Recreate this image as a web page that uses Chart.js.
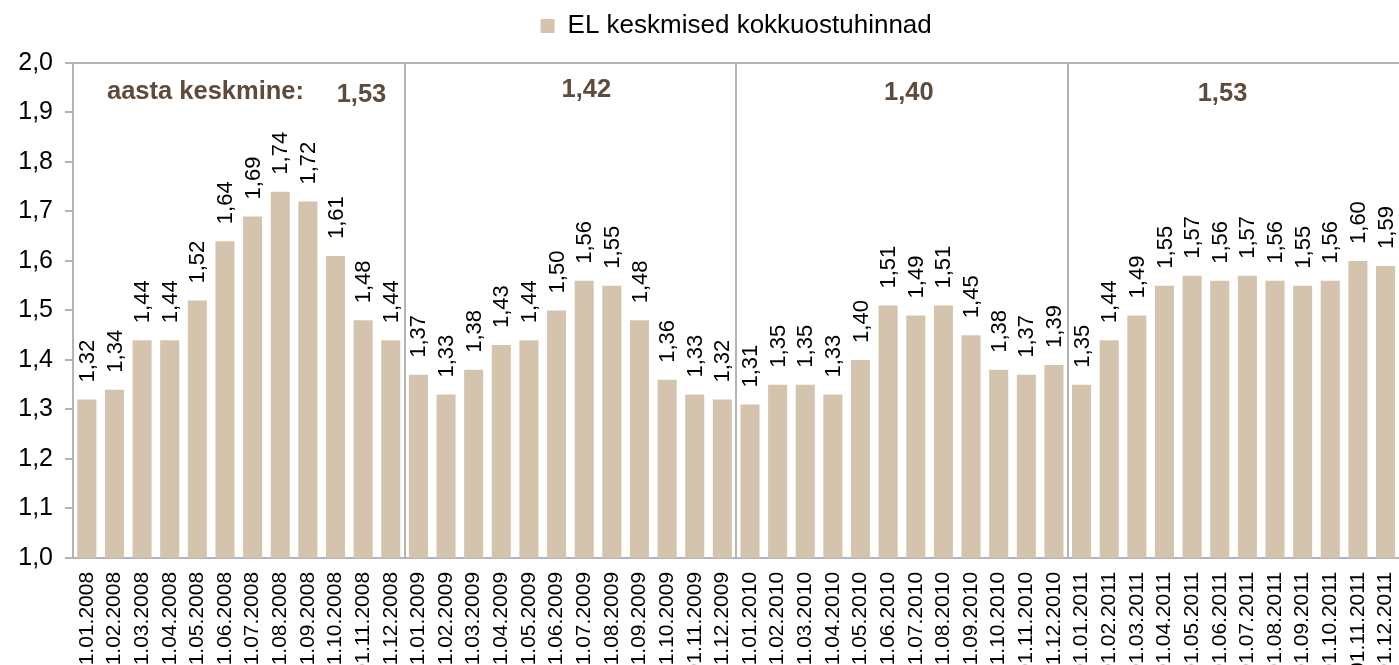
<!DOCTYPE html>
<html><head><meta charset="utf-8">
<script src="https://cdn.jsdelivr.net/npm/chart.js@4"></script>
<style>
html,body{margin:0;padding:0;background:#fff;overflow:hidden;}
#wrap{width:1425px;height:691px;position:relative;}
</style></head><body>
<div id="wrap"><canvas id="c"></canvas></div>
<script>
const categories = [
 '01.01.2008','01.02.2008','01.03.2008','01.04.2008','01.05.2008','01.06.2008','01.07.2008','01.08.2008','01.09.2008','01.10.2008','01.11.2008','01.12.2008',
 '01.01.2009','01.02.2009','01.03.2009','01.04.2009','01.05.2009','01.06.2009','01.07.2009','01.08.2009','01.09.2009','01.10.2009','01.11.2009','01.12.2009',
 '01.01.2010','01.02.2010','01.03.2010','01.04.2010','01.05.2010','01.06.2010','01.07.2010','01.08.2010','01.09.2010','01.10.2010','01.11.2010','01.12.2010',
 '01.01.2011','01.02.2011','01.03.2011','01.04.2011','01.05.2011','01.06.2011','01.07.2011','01.08.2011','01.09.2011','01.10.2011','01.11.2011','01.12.2011'
];
const prices2008 = [1.32, 1.34, 1.44, 1.44, 1.52, 1.64, 1.69, 1.74, 1.72, 1.61, 1.48, 1.44];
const prices2009 = [1.37, 1.33, 1.38, 1.43, 1.44, 1.50, 1.56, 1.55, 1.48, 1.36, 1.33, 1.32];
const prices2010 = [1.31, 1.35, 1.35, 1.33, 1.40, 1.51, 1.49, 1.51, 1.45, 1.38, 1.37, 1.39];
const prices2011 = [1.35, 1.44, 1.49, 1.55, 1.57, 1.56, 1.57, 1.56, 1.55, 1.56, 1.60, 1.59];
const seriesLabel = 'EL keskmised kokkuostuhinnad';
const yearAverageCaption = 'aasta keskmine:';
const yearAverages = ['1,53', '1,42', '1,40', '1,53'];
const yTickLabels = ['1,0','1,1','1,2','1,3','1,4','1,5','1,6','1,7','1,8','1,9','2,0'];

const prices = [].concat(prices2008, prices2009, prices2010, prices2011);

const FONT = '"Liberation Sans", Arial, sans-serif';
const barColor = '#D4C4AE';
const lineColor = '#B4B4B4';
const noteColor = '#5E4B3C';
const fmt2 = v => v.toFixed(2).replace('.', ',');

const barValueLabels = {
  id: 'barValueLabels',
  afterDatasetsDraw(chart) {
    const ctx = chart.ctx;
    const meta = chart.getDatasetMeta(0);
    const data = chart.data.datasets[0].data;
    ctx.save();
    ctx.font = '22px ' + FONT;
    ctx.fillStyle = '#000';
    ctx.textAlign = 'left';
    ctx.textBaseline = 'middle';
    meta.data.forEach((bar, i) => {
      ctx.save();
      ctx.translate(bar.x + 1, bar.y - 17);
      ctx.rotate(-Math.PI / 2);
      ctx.fillText(fmt2(data[i]), 0, 0);
      ctx.restore();
    });
    ctx.restore();
  }
};

// annotation placement: [category offset, y value]
const notePlacement = { caption: [1.23, 1.942], values: [[10.44, 1.936], [18.58, 1.946], [30.25, 1.940], [41.6, 1.938]] };

const yearNotes = {
  id: 'yearNotes',
  afterDraw(chart) {
    const ctx = chart.ctx;
    const xs = chart.scales.x, ys = chart.scales.y;
    const catW = (xs.right - xs.left) / categories.length;
    ctx.save();
    ctx.font = 'bold 25.5px ' + FONT;
    ctx.fillStyle = noteColor;
    ctx.textBaseline = 'middle';
    ctx.textAlign = 'left';
    ctx.fillText(yearAverageCaption, xs.left + catW * notePlacement.caption[0], ys.getPixelForValue(notePlacement.caption[1]));
    ctx.textAlign = 'center';
    yearAverages.forEach((t, i) => {
      const p = notePlacement.values[i];
      ctx.fillText(t, xs.left + catW * p[0], ys.getPixelForValue(p[1]));
    });
    ctx.restore();
  }
};

const legendGap = {
  id: 'legendGap',
  beforeInit(chart) {
    const orig = chart.legend.fit;
    chart.legend.fit = function () { orig.call(this); this.height += 14; };
  }
};

new Chart(document.getElementById('c'), {
  type: 'bar',
  data: {
    labels: categories,
    datasets: [{
      label: seriesLabel,
      data: prices,
      backgroundColor: barColor,
      borderWidth: 0,
      barPercentage: 0.69,
      categoryPercentage: 1.0
    }]
  },
  options: {
    responsive: true,
    maintainAspectRatio: false,
    animation: false,
    devicePixelRatio: 1,
    layout: { padding: { top: 3, left: 0, right: 0, bottom: 0 } },
    plugins: {
      legend: {
        position: 'top',
        fullSize: false,
        labels: {
          boxWidth: 14, boxHeight: 14, color: '#000',
          font: { size: 26, family: FONT },
          padding: 10
        }
      },
      tooltip: { enabled: false }
    },
    scales: {
      x: {
        offset: true,
        grid: {
          offset: true,
          drawTicks: false,
          lineWidth: 2,
          color: c => (c.index !== undefined && c.index > 0 && c.index < categories.length && c.index % 12 === 0) ? lineColor : 'rgba(0,0,0,0)'
        },
        border: { display: true, color: lineColor, width: 2 },
        ticks: {
          autoSkip: false, maxRotation: 90, minRotation: 90, padding: 14,
          color: '#000', font: { size: 21, family: FONT }
        }
      },
      y: {
        min: 1.0, max: 2.0,
        afterFit: s => { s.width = 73; },
        grid: {
          lineWidth: 2,
          tickLength: 8,
          tickColor: lineColor,
          color: c => (c.tick && Math.abs(c.tick.value - 2) < 1e-9) ? lineColor : 'rgba(0,0,0,0)'
        },
        border: { display: true, color: lineColor, width: 2 },
        ticks: {
          stepSize: 0.1, padding: 12, color: '#000',
          font: { size: 25, family: FONT },
          callback: (v, i) => yTickLabels[i]
        }
      }
    }
  },
  plugins: [barValueLabels, yearNotes, legendGap]
});
</script>
</body></html>
